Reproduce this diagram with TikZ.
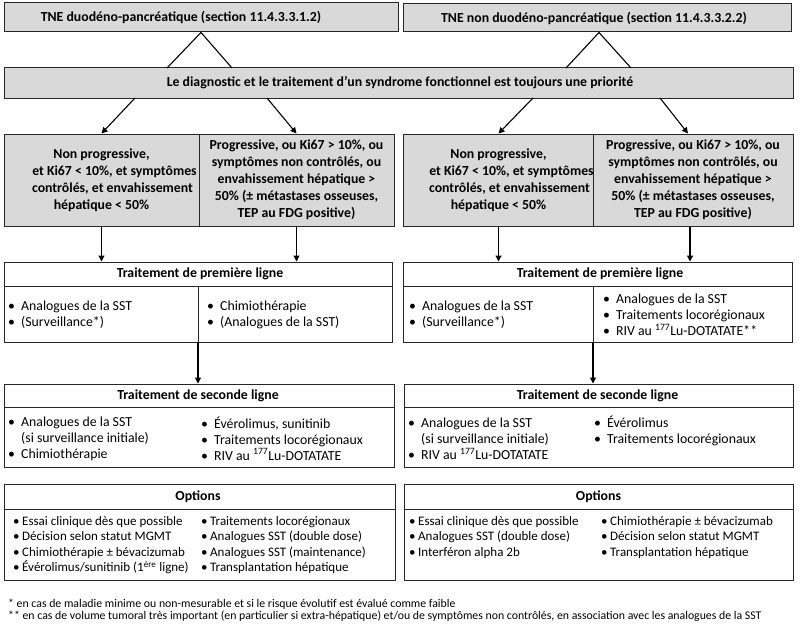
\documentclass[tikz,border=0pt]{standalone}
\usepackage{fontspec}
\setmainfont{Carlito}
\usetikzlibrary{arrows.meta,calc}
\newcommand{\bl}{\makebox[13pt][l]{\textbullet}}
\newcommand{\obl}{\makebox[9pt][l]{\textbullet}}
\newcommand{\ind}{\hspace*{13pt}}
\begin{document}
\begin{tikzpicture}[x=1pt,y=-1pt,
  box/.style={draw=black!85, line width=1pt, inner sep=0pt},
  gbox/.style={box, fill=black!15},
  inner/.style={draw=black!85, line width=1pt},
  ttl/.style={font=\bfseries\fontsize{13.8}{17}\selectfont, align=center, inner sep=0pt},
  lst/.style={font=\fontsize{13.8}{16}\selectfont, align=left, inner sep=0pt, anchor=west},
  olst/.style={font=\fontsize{13}{15.4}\selectfont, align=left, inner sep=0pt, anchor=west},
  fn/.style={font=\fontsize{11.8}{12}\selectfont, align=left, inner sep=0pt, anchor=west},
  arr/.style={-{Triangle[length=6pt,width=6pt]}, line width=1.1pt},
  ln/.style={line width=1.1pt}]
\useasboundingbox (0,0) rectangle (800,634);

% top boxes
\node[gbox, minimum width=394pt, minimum height=29pt] (tL) at (201,17.5) {};
\node[ttl] (tLt) at (181,17.5) {TNE duodéno-pancréatique (section 11.4.3.3.1.2)};
\node[gbox, minimum width=388pt, minimum height=28pt] (tR) at (597,18) {};
\node[ttl] (tRt) at (594,18) {TNE non duodéno-pancréatique (section 11.4.3.3.2.2)};

% diagnostic
\node[gbox, minimum width=789pt, minimum height=30pt] (diag) at (398.5,83) {};
\node[ttl] (diagt) at (400,83) {Le diagnostic et le traitement d’un syndrome fonctionnel est toujours une priorité};

\coordinate (pL1) at (167,68);
\coordinate (pL2) at (232,68);
\coordinate (pR1) at (566,68);
\coordinate (pR2) at (631,68);
\draw[ln] (pL1) -- (tL.south) -- (pL2);
\draw[ln] (pR1) -- ($(tR.south)+(2,0)$) -- (pR2);

% condition boxes
\node[gbox, ttl, minimum width=195pt, minimum height=92pt] (cL1) at (101.5,180)
  {Non progressive,\\ \hspace*{26pt}et Ki67 < 10\%, et symptômes\\ \hspace*{22pt}contrôlés, et envahissement\\ hépatique < 50\%};
\node[gbox, ttl, minimum width=195pt, minimum height=92pt] (cL2) at (296.5,180)
  {Progressive, ou Ki67 > 10\%, ou\\ symptômes non contrôlés, ou\\ envahissement hépatique >\\ 50\% (± métastases osseuses,\\ TEP au FDG positive)};
\node[gbox, ttl, minimum width=189pt, minimum height=92pt] (cR1) at (498.5,180)
  {Non progressive,\\ \hspace*{26pt}et Ki67 < 10\%, et symptômes\\ \hspace*{22pt}contrôlés, et envahissement\\ hépatique < 50\%};
\node[gbox, ttl, minimum width=200pt, minimum height=92pt] (cR2) at (693,180)
  {Progressive, ou Ki67 > 10\%, ou\\ symptômes non contrôlés, ou\\ envahissement hépatique >\\ 50\% (± métastases osseuses,\\ TEP au FDG positive)};

\coordinate (aL1) at (135,98);
\coordinate (aL2) at (267,98);
\coordinate (aR1) at (533,98);
\coordinate (aR2) at (660,98);
\draw[arr] (aL1) -- (cL1.north);
\draw[arr] (aL2) -- (cL2.north);
\draw[arr] (aR1) -- (cR1.north);
\draw[arr] (aR2) -- ($(cR2.north)+(-5,0)$);

% first line
\node[box, minimum width=388pt, minimum height=80pt] (fL) at (198,302) {};
\node[box, minimum width=389pt, minimum height=80pt] (fR) at (597.5,302) {};
\draw[inner] (4,286) -- (392,286) (198,286) -- (198,342);
\draw[inner] (403,286) -- (792,286) (593,286) -- (593,342);
\node[ttl] (fLh) at (200,274) {Traitement de première ligne};
\node[ttl] (fRh) at (600,274) {Traitement de première ligne};
\node[lst] (fL1) at (8,315) {\bl Analogues de la SST\\ \bl (Surveillance*)};
\node[lst] (fL2) at (207,315) {\bl Chimiothérapie\\ \bl (Analogues de la SST)};
\node[lst] (fR1) at (409,315) {\bl Analogues de la SST\\ \bl (Surveillance*)};
\node[lst] (fR2) at (603,315) {\bl Analogues de la SST\\ \bl Traitements locorégionaux\\ \bl RIV au \textsuperscript{177}Lu-DOTATATE**};

\draw[arr] (cL1.south) -- (cL1.south |- fL.north);
\draw[arr] (cL2.south) -- (cL2.south |- fL.north);
\draw[arr] (cR1.south) -- (cR1.south |- fR.north);
\draw[arr] ($(cR2.south)+(-3,0)$) -- ($(cR2.south |- fR.north)+(-3,0)$);

% second line
\node[box, minimum width=390pt, minimum height=83pt] (sL) at (199,425.5) {};
\node[box, minimum width=389pt, minimum height=83pt] (sR) at (598.5,425.5) {};
\draw[inner] (4,407) -- (394,407);
\draw[inner] (404,407) -- (793,407);
\node[ttl] (sLh) at (198,395.5) {Traitement de seconde ligne};
\node[ttl] (sRh) at (597.5,395.5) {Traitement de seconde ligne};
\node[lst] (sL1) at (8,438.5) {\bl Analogues de la SST\\ \ind (si surveillance initiale)\\ \bl Chimiothérapie};
\node[lst] (sL2) at (201,438.5) {\bl Évérolimus, sunitinib\\ \bl Traitements locorégionaux\\ \bl RIV au \textsuperscript{177}Lu-DOTATATE};
\node[lst] (sR1) at (408,438.5) {\bl Analogues de la SST\\ \ind (si surveillance initiale)\\ \bl RIV au \textsuperscript{177}Lu-DOTATATE};
\node[lst] (sR2) at (594,430.5) {\bl Évérolimus\\ \bl Traitements locorégionaux};

\coordinate (fLd) at (198,342);
\coordinate (fRd) at (593,342);
\draw[arr] (fLd) -- (fLd |- sL.north);
\draw[arr] (fRd) -- (fRd |- sR.north);

% options
\node[box, minimum width=391pt, minimum height=96pt] (oL) at (199.5,532) {};
\node[box, minimum width=389pt, minimum height=96pt] (oR) at (598.5,532) {};
\draw[inner] (4,509) -- (395,509);
\draw[inner] (404,509) -- (793,509);
\node[ttl] (oLh) at (198,497) {Options};
\node[ttl] (oRh) at (598.5,497) {Options};
\node[olst] (oL1) at (13,545) {\obl Essai clinique dès que possible\\ \obl Décision selon statut MGMT\\ \obl Chimiothérapie ± bévacizumab\\ \obl Évérolimus/sunitinib (1\textsuperscript{ère} ligne)};
\node[olst] (oL2) at (201,545) {\obl Traitements locorégionaux\\ \obl Analogues SST (double dose)\\ \obl Analogues SST (maintenance)\\ \obl Transplantation hépatique};
\node[olst] (oR1) at (409,537.5) {\obl Essai clinique dès que possible\\ \obl Analogues SST (double dose)\\ \obl Interféron alpha 2b};
\node[olst] (oR2) at (601,537.5) {\obl Chimiothérapie ± bévacizumab\\ \obl Décision selon statut MGMT\\ \obl Transplantation hépatique};

% footnotes
\node[fn] (fn1) at (8,604) {* en cas de maladie minime ou non-mesurable et si le risque évolutif est évalué comme faible};
\node[fn] (fn2) at (8,616) {** en cas de volume tumoral très important (en particulier si extra-hépatique) et/ou de symptômes non contrôlés, en association avec les analogues de la SST};
\end{tikzpicture}
\end{document}
